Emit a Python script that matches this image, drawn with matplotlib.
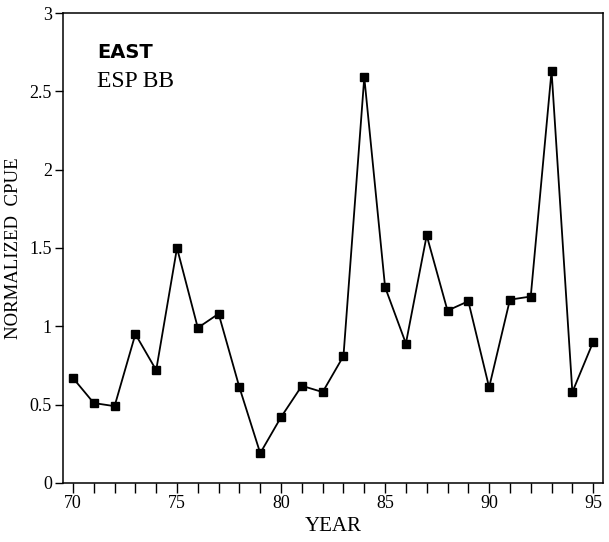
import matplotlib
matplotlib.use("Agg")
import matplotlib.pyplot as plt
from matplotlib.ticker import MultipleLocator

years = [70, 71, 72, 73, 74, 75, 76, 77, 78, 79, 80, 81, 82, 83, 84, 85, 86, 87, 88, 89, 90, 91, 92, 93, 94, 95]
cpue = [0.67, 0.51, 0.49, 0.95, 0.72, 1.50, 0.99, 1.08, 0.61, 0.19, 0.42, 0.62, 0.58, 0.81,
        2.59, 1.25, 0.89, 1.58, 1.10, 1.16, 0.61, 1.17, 1.19, 2.63, 0.58, 0.90]
x_ticks = [70, 75, 80, 85, 90, 95]
y_ticks = [0, 0.5, 1, 1.5, 2, 2.5, 3]
y_ticklabels = ["0", "0.5", "1", "1.5", "2", "2.5", "3"]

SERIF = "Liberation Serif"

fig = plt.figure(figsize=(6.09, 5.42), dpi=100)
ax = fig.add_axes([0.1034, 0.109, 0.887, 0.867])

ax.plot(years, cpue, color="black", linewidth=1.3, marker="s", markersize=6.2,
        markerfacecolor="black", markeredgecolor="black")

ax.set_xlim(69.52, 95.48)
ax.set_ylim(0, 3)
ax.set_xticks(x_ticks)
ax.xaxis.set_minor_locator(MultipleLocator(1))
ax.set_yticks(y_ticks)
ax.set_yticklabels(y_ticklabels)

ax.tick_params(axis="both", which="both", direction="out", color="black", width=1)
ax.tick_params(axis="x", which="both", length=7, pad=2)
ax.tick_params(axis="y", which="major", length=6, pad=2)
for lab in ax.get_xticklabels() + ax.get_yticklabels():
    lab.set_fontfamily(SERIF)
    lab.set_fontsize(13)

for s in ax.spines.values():
    s.set_linewidth(1.1)
    s.set_color("black")

ax.set_xlabel("YEAR", fontsize=15, labelpad=3, family=SERIF)
ax.set_ylabel("NORMALIZED  CPUE", fontsize=13.5, labelpad=5, family=SERIF)

ax.text(71.15, 2.745, "EAST", fontsize=14, fontweight="bold", family="DejaVu Sans",
        va="center", ha="left")
ax.text(71.15, 2.56, "ESP BB", fontsize=17, va="center", ha="left", family=SERIF)

fig.savefig("out.png", dpi=100)
